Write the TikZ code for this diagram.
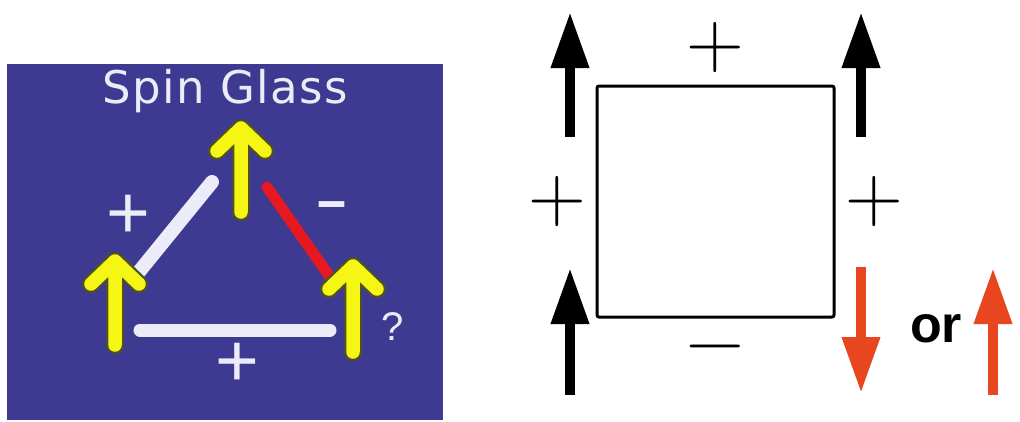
\documentclass[tikz,border=0pt]{standalone}
\usepackage{fontspec}
\usetikzlibrary{arrows.meta}
\newfontfamily\lsans{Liberation Sans}
\newfontfamily\dvsans[LetterSpace=3]{DejaVu Sans}
\definecolor{sgblue}{RGB}{62,58,145}
\definecolor{sgyellow}{RGB}{246,246,20}
\definecolor{sgedge}{RGB}{80,80,40}
\definecolor{sgwhite}{RGB}{236,236,248}
\definecolor{sgred}{RGB}{232,24,32}
\definecolor{sgorange}{RGB}{232,70,30}
\tikzset{
  x=1pt,y=-1pt,
  bond/.style={line width=#1, line cap=round},
  yarrowout/.style={draw=sgedge, line width=18pt, line cap=round, line join=round},
  yarrowin/.style={draw=sgyellow, line width=13.5pt, line cap=round, line join=round},
  spinarrow/.style={line width=10pt, -{Triangle[length=56pt,width=36pt]}},
  whitelbl/.style={text=sgwhite, inner sep=0pt, font=\lsans\fontsize{75}{75}\selectfont},
  lmlbl/.style={inner sep=0pt, font=\fontsize{80}{80}\selectfont},
}
\newcommand{\yarrow}[4]{% cx, apex, armsy, bottom
  \draw[yarrowout] (#1-24,#3) -- (#1,#2) -- (#1+24,#3) (#1,#2) -- (#1,#4);
  \draw[yarrowin] (#1-24,#3) -- (#1,#2) -- (#1+24,#3) (#1,#2) -- (#1,#4);
}
\begin{document}
\begin{tikzpicture}
\useasboundingbox[fill=white] (0,0) rectangle (1020,421);
% left panel
\fill[sgblue] (7,64) rectangle (443,420);
\node[text=sgwhite, anchor=base, inner sep=0pt, font=\dvsans\fontsize{45}{45}\selectfont] (title) at (225,103) {Spin Glass};
\coordinate (wl1) at (138,273); \coordinate (wl2) at (212,182);
\coordinate (rl1) at (267,187); \coordinate (rl2) at (330,277);
\coordinate (bl1) at (140,330); \coordinate (bl2) at (330,330);
\draw[bond=14pt, sgwhite] (wl1) -- (wl2);
\draw[bond=11pt, sgred] (rl1) -- (rl2);
\draw[bond=13pt, sgwhite] (bl1) -- (bl2);
\yarrow{241}{128}{151}{212}
\yarrow{115}{261}{284}{345}
\yarrow{353}{266}{289}{352}
\node[whitelbl] (pl) at (128,217) {+};
\node[whitelbl] (ml) at (332,213) {\scalebox{1.4}[1]{-}};
\node[whitelbl] (pb) at (237,365) {+};
\node[text=sgwhite, inner sep=0pt, font=\lsans\fontsize{40}{40}\selectfont] (q) at (393,327) {?};
% right panel
\draw[line width=3pt, rounded corners=2pt] (597,86) rectangle (834,317);
\coordinate (a1s) at (570,137); \coordinate (a1e) at (570,12);
\coordinate (a2s) at (861,137); \coordinate (a2e) at (861,12);
\coordinate (a3s) at (570,395); \coordinate (a3e) at (570,268);
\coordinate (a4s) at (861,267); \coordinate (a4e) at (861,393);
\coordinate (a5s) at (993,395); \coordinate (a5e) at (993,268);
\draw[spinarrow] (a1s) -- (a1e);
\draw[spinarrow] (a2s) -- (a2e);
\draw[spinarrow] (a3s) -- (a3e);
\draw[spinarrow, sgorange] (a4s) -- (a4e);
\draw[spinarrow, sgorange] (a5s) -- (a5e);
\node[lmlbl] (pt) at (715,48) {+};
\node[lmlbl] (plr) at (557,202) {+};
\node[lmlbl] (prr) at (874,202) {+};
\node[lmlbl] (mb) at (715,356) {−};
\node[inner sep=0pt, font=\lsans\bfseries\fontsize{52}{52}\selectfont] (or) at (936,329) {or};
\end{tikzpicture}
\end{document}
